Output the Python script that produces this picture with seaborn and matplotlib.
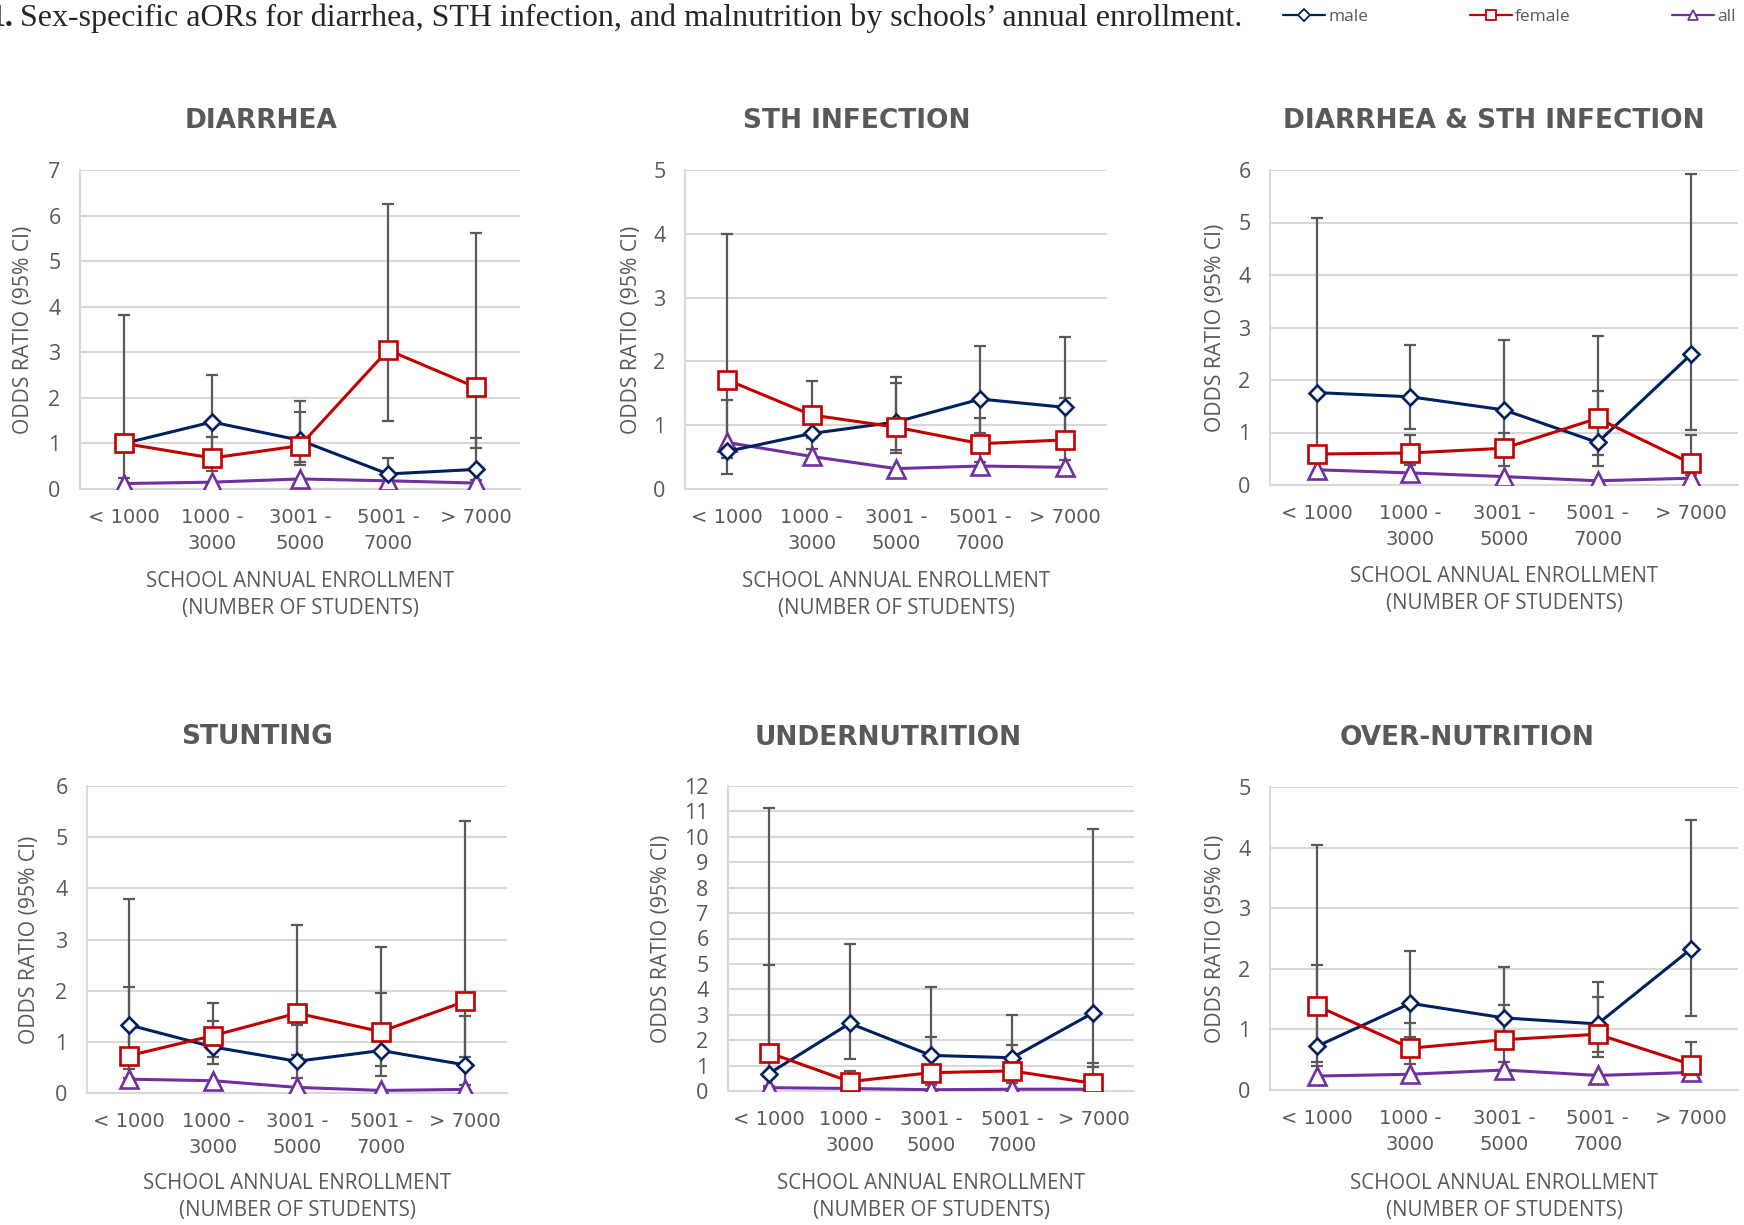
import numpy as np
import pandas as pd
import matplotlib.pyplot as plt
import seaborn as sns

# enrollment categories (x axis)
categories = ['< 1000', '1000 -\n3000', '3001 -\n5000', '5001 -\n7000', '> 7000']

# DIARRHEA
diarrhea_male = [1.00, 1.47, 1.07, 0.33, 0.43]
diarrhea_male_lo = [1.00, 0.85, 0.60, 0.15, 0.20]
diarrhea_male_hi = [1.00, 2.50, 1.94, 0.67, 1.11]
diarrhea_female = [1.00, 0.68, 0.95, 3.05, 2.23]
diarrhea_female_lo = [0.25, 0.39, 0.52, 1.49, 0.89]
diarrhea_female_hi = [3.82, 1.14, 1.69, 6.26, 5.62]
diarrhea_all = [0.12, 0.15, 0.22, 0.18, 0.13]

# STH INFECTION
sth_male = [0.59, 0.87, 1.05, 1.41, 1.28]
sth_male_lo = [0.24, 0.62, 0.61, 0.88, 0.70]
sth_male_hi = [1.39, 1.20, 1.75, 2.24, 2.39]
sth_female = [1.71, 1.16, 0.97, 0.71, 0.77]
sth_female_lo = [0.48, 0.80, 0.57, 0.43, 0.45]
sth_female_hi = [4.00, 1.70, 1.66, 1.11, 1.42]
sth_all = [0.73, 0.51, 0.32, 0.36, 0.34]

# DIARRHEA & STH INFECTION
both_male = [1.76, 1.68, 1.43, 0.81, 2.49]
both_male_lo = [0.60, 1.06, 0.80, 0.37, 1.04]
both_male_hi = [5.09, 2.66, 2.77, 1.79, 5.92]
both_female = [0.59, 0.61, 0.70, 1.27, 0.41]
both_female_lo = [0.45, 0.38, 0.37, 0.57, 0.20]
both_female_hi = [0.72, 0.95, 1.00, 2.84, 0.96]
both_all = [0.29, 0.23, 0.16, 0.08, 0.13]

# STUNTING
stunting_male = [1.33, 0.90, 0.62, 0.83, 0.55]
stunting_male_lo = [0.47, 0.57, 0.29, 0.34, 0.16]
stunting_male_hi = [3.79, 1.41, 1.32, 1.96, 1.50]
stunting_female = [0.73, 1.12, 1.56, 1.20, 1.79]
stunting_female_lo = [0.30, 0.70, 0.75, 0.52, 0.70]
stunting_female_hi = [2.08, 1.76, 3.28, 2.86, 5.32]
stunting_all = [0.27, 0.24, 0.11, 0.05, 0.07]

# UNDERNUTRITION
under_male = [0.68, 2.66, 1.40, 1.31, 3.08]
under_male_lo = [0.10, 1.25, 0.50, 0.55, 0.96]
under_male_hi = [4.96, 5.80, 4.09, 2.98, 10.30]
under_female = [1.51, 0.37, 0.72, 0.79, 0.30]
under_female_lo = [0.20, 0.05, 0.25, 0.30, 0.05]
under_female_hi = [11.15, 0.79, 2.12, 1.80, 1.09]
under_all = [0.13, 0.10, 0.05, 0.07, 0.07]

# OVER-NUTRITION
over_male = [0.72, 1.43, 1.19, 1.09, 2.33]
over_male_lo = [0.40, 0.88, 0.70, 0.63, 1.22]
over_male_hi = [2.07, 2.29, 2.03, 1.79, 4.45]
over_female = [1.39, 0.69, 0.83, 0.92, 0.42]
over_female_lo = [0.47, 0.43, 0.47, 0.55, 0.20]
over_female_hi = [4.04, 1.10, 1.41, 1.53, 0.80]
over_all = [0.23, 0.26, 0.33, 0.24, 0.29]

sns.set_theme(style='white')
plt.rcParams['font.family'] = ['Open Sans', 'DejaVu Sans']

GRAY = '#595959'
colors = {'male': '#002060', 'female': '#C00000', 'all': '#7030A0'}
markers = {'male': 'D', 'female': 's', 'all': '^'}
msizes = {'male': 8, 'female': 13, 'all': 13}

W, H = 1744, 1225
fig = plt.figure(figsize=(W / 100, H / 100), dpi=100)

# title, ymax, series, axes box (l, t, r, b px), title xy, ylabel x, xlabel y
panels = [
    ('DIARRHEA', 7, (diarrhea_male, diarrhea_male_lo, diarrhea_male_hi,
                     diarrhea_female, diarrhea_female_lo, diarrhea_female_hi, diarrhea_all),
     (80, 170, 520, 489), (261, 121), 24, 595),
    ('STH INFECTION', 5, (sth_male, sth_male_lo, sth_male_hi,
                          sth_female, sth_female_lo, sth_female_hi, sth_all),
     (685, 170, 1107, 489), (857, 121), 631, 595),
    ('DIARRHEA & STH INFECTION', 6, (both_male, both_male_lo, both_male_hi,
                                     both_female, both_female_lo, both_female_hi, both_all),
     (1270, 170, 1738, 485), (1494, 121), 1215, 590),
    ('STUNTING', 6, (stunting_male, stunting_male_lo, stunting_male_hi,
                     stunting_female, stunting_female_lo, stunting_female_hi, stunting_all),
     (87, 786, 507, 1093), (257, 737), 29, 1197),
    ('UNDERNUTRITION', 12, (under_male, under_male_lo, under_male_hi,
                            under_female, under_female_lo, under_female_hi, under_all),
     (728, 786, 1134, 1091), (888, 738), 661, 1197),
    ('OVER-NUTRITION', 5, (over_male, over_male_lo, over_male_hi,
                           over_female, over_female_lo, over_female_hi, over_all),
     (1270, 787, 1738, 1090), (1467, 738), 1215, 1197),
]


def fx(px):
    return px / W


def fy(px):
    return 1 - px / H


for title, ymax, series, box, tpos, ylab_x, xlab_y in panels:
    l, t, r, b = box
    ax = fig.add_axes([fx(l), fy(b), (r - l) / W, (b - t) / H])
    m, m_lo, m_hi, f, f_lo, f_hi, a = series
    x = np.arange(len(categories))

    # CI error bars (behind lines)
    for val, lo, hi in [(m, m_lo, m_hi), (f, f_lo, f_hi)]:
        val = np.array(val)
        err = [val - np.array(lo), np.array(hi) - val]
        ax.errorbar(x, val, yerr=err, fmt='none', ecolor=GRAY, elinewidth=1.6,
                    capsize=4.5, capthick=1.6, zorder=2)

    df = pd.DataFrame({'pos': np.tile(x, 3),
                       'odds': np.concatenate([m, f, a]),
                       'group': np.repeat(['male', 'female', 'all'], len(x))})
    for g in ['all', 'male', 'female']:
        sub = df[df['group'] == g]
        sns.lineplot(data=sub, x='pos', y='odds', ax=ax, color=colors[g],
                     marker=markers[g], markersize=msizes[g], markerfacecolor='white',
                     markeredgecolor=colors[g], markeredgewidth=1.9, linewidth=2.2,
                     zorder=3)

    ax.set_xlim(-0.5, len(categories) - 0.5)
    ax.set_ylim(0, ymax)
    ax.set_yticks(range(0, ymax + 1))
    ax.set_xticks(x)
    ax.set_xticklabels(categories, linespacing=1.45, family='DejaVu Sans')
    ax.yaxis.grid(True, color='#D9D9D9', linewidth=1.5)
    ax.set_axisbelow(True)
    for s in ['top', 'right']:
        ax.spines[s].set_visible(False)
    for s in ['left', 'bottom']:
        ax.spines[s].set_color('#D9D9D9')
        ax.spines[s].set_linewidth(1.5)
    ax.tick_params(axis='y', length=0, labelsize=15.5, colors=GRAY, pad=14)
    ax.tick_params(axis='x', length=0, labelsize=14, colors=GRAY, pad=14)
    ax.set_xlabel('')
    ax.set_ylabel('')

    fig.text(fx(tpos[0]), fy(tpos[1]), title, ha='center', va='center',
             fontsize=19, fontweight='bold', color=GRAY, family='DejaVu Sans')
    fig.text(fx(ylab_x), fy((t + b) / 2), 'ODDS RATIO (95% CI)', rotation=90,
             ha='center', va='center', fontsize=15.2, color=GRAY)
    fig.text(fx((l + r) / 2), fy(xlab_y), 'SCHOOL ANNUAL ENROLLMENT\n(NUMBER OF STUDENTS)',
             ha='center', va='center', fontsize=14.8, color=GRAY, linespacing=1.35)

# figure caption (left edge cropped in the original)
fig.text(fx(13), fy(18), '1.', ha='right', va='center', fontsize=23,
         fontweight='bold', family='Liberation Serif')
fig.text(fx(20), fy(18), 'Sex-specific aORs for diarrhea, STH infection, and malnutrition '
         'by schools\u2019 annual enrollment.', ha='left', va='center', fontsize=23,
         family='Liberation Serif')

# legend, one entry per group placed like the original
for g, lx in [('male', 1283), ('female', 1470), ('all', 1672)]:
    h = plt.Line2D([], [], color=colors[g], marker=markers[g], markersize=6.5,
                   markerfacecolor='white', markeredgecolor=colors[g],
                   markeredgewidth=1.3, linewidth=1.6)
    leg = fig.legend([h], [g], loc='center left', bbox_to_anchor=(fx(lx), fy(17)),
                     frameon=False, fontsize=12.5, handlelength=2.4,
                     handletextpad=0.2, borderpad=0, borderaxespad=0)
    for txt in leg.get_texts():
        txt.set_color(GRAY)

fig.savefig('out.png', dpi=100)
